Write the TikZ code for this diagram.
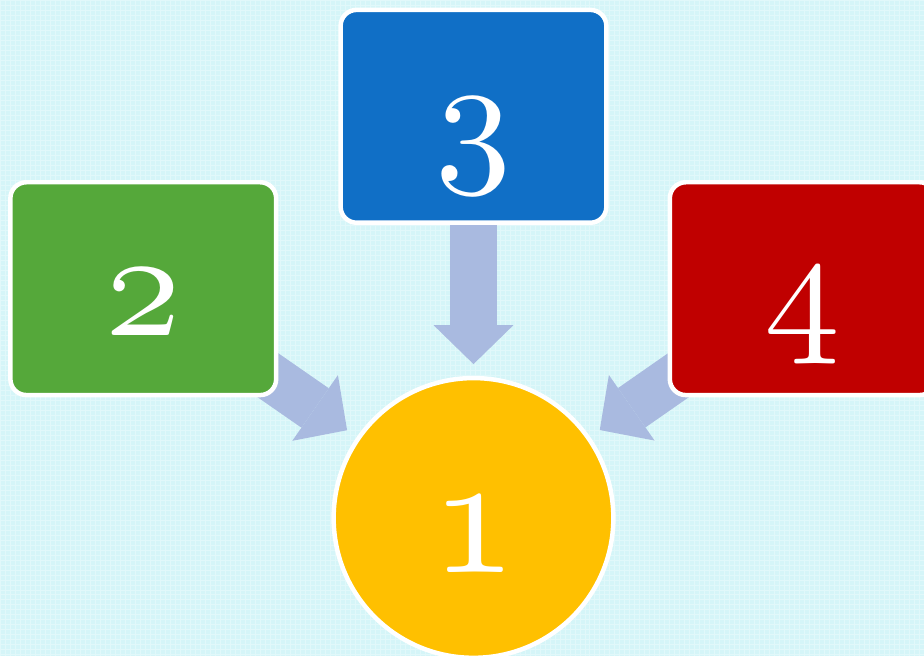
\documentclass[tikz,border=0pt]{standalone}
\usetikzlibrary{arrows.meta,calc}
\definecolor{bgc}{RGB}{213,245,248}
\definecolor{boxgreen}{RGB}{85,168,58}
\definecolor{boxblue}{RGB}{16,111,198}
\definecolor{boxred}{RGB}{192,0,0}
\definecolor{circyellow}{RGB}{255,192,0}
\definecolor{arrowc}{RGB}{169,186,224}
\font\osnumA=cmmi10 at 152pt
\font\osnumB=cmmi10 at 174pt
\pgfdeclarelayer{back}
\pgfdeclarelayer{arrowlayer}
\pgfsetlayers{back,arrowlayer,main}
\begin{document}
\begin{tikzpicture}[x=1pt,y=-1pt,
  box/.style={draw=white, line width=4.5pt, rounded corners=16pt, minimum width=266pt, minimum height=213pt, inner sep=0pt, outer sep=0pt},
  circ/.style={circle, draw=white, line width=4.5pt, fill=circyellow, minimum size=280pt, inner sep=0pt, outer sep=0pt},
  num/.style={anchor=base, text=white, inner sep=0pt, font=\osnumA},
  numbig/.style={anchor=base, text=white, inner sep=0pt, font=\osnumB},
  bigarrow/.style={draw=arrowc, line width=48pt, line cap=butt, -{Triangle[length=39pt 0 0, width=80pt 0 0, line width=0pt 0 0]}}
]
\begin{pgfonlayer}{back}
  \fill[bgc] (0,0) rectangle (924,656);
  \draw[white, opacity=0.3, line width=0.8pt, step=5pt] (0,0) grid (924,656);
\end{pgfonlayer}
\useasboundingbox (0,0) rectangle (924,656);

\node[box, fill=boxgreen] (n2) at (143,288.5) {};
\node[box, fill=boxblue] (n3) at (473.5,116) {};
\node[box, fill=boxred] (n4) at (803,288.5) {};
\node[circ] (n1) at (473.5,518) {};

\node[num] (l2) at ($(n2.center)+(0,46.5)$) {2};
\node[num] (l3) at ($(n3.center)+(0,48)$) {3};
\node[num] (l4) at ($(n4.center)+(0,45.5)$) {4};
\node[numbig] (l1) at ($(n1.center)+(0,55)$) {1};

\coordinate (t2) at ($(n1.center)!154pt!(n2.center)$);
\coordinate (t3) at ($(n1.center)!154pt!(n3.center)$);
\coordinate (t4) at ($(n1.center)!154pt!(n4.center)$);
\begin{pgfonlayer}{arrowlayer}
  \draw[bigarrow] (n2.center) -- (t2);
  \draw[bigarrow] (n3.center) -- (t3);
  \draw[bigarrow] (n4.center) -- (t4);
\end{pgfonlayer}
\end{tikzpicture}
\end{document}
